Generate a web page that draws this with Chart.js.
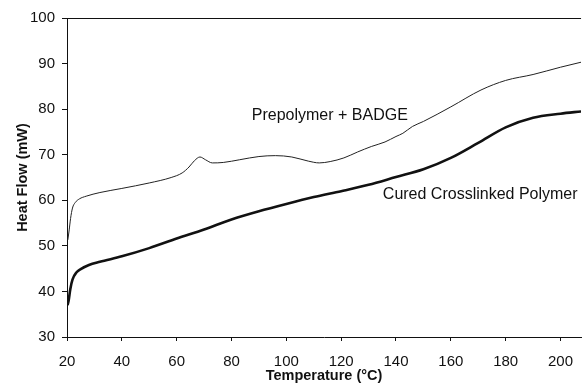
<!DOCTYPE html>
<html>
<head>
<meta charset="utf-8">
<script src="https://cdn.jsdelivr.net/npm/chart.js@4"></script>
<style>
  body { margin: 0; background: #fff; }
  #wrap { width: 585px; height: 387px; }
</style>
</head>
<body>
<div id="wrap"><canvas id="myChart" width="585" height="387"></canvas></div>
<script>
// DSC traces
const prepolymerTemps = [20.3, 20.8, 21.3, 22, 23, 24.5, 27, 32, 40, 50, 58, 62, 64.5, 66.5, 68.5, 70.5, 73, 77, 83, 90, 96, 102, 108, 112, 116, 121, 126, 131, 136, 140, 142.5, 146, 150, 160, 171, 180, 190, 200, 207.5];
const prepolymerFlow  = [51.3, 53.5, 56, 58.3, 59.5, 60.3, 60.9, 61.7, 62.6, 63.8, 65.0, 66.0, 67.3, 68.7, 69.5, 68.9, 68.2, 68.3, 68.9, 69.6, 69.8, 69.5, 68.6, 68.2, 68.5, 69.3, 70.6, 71.8, 72.8, 74.0, 74.7, 76.2, 77.3, 80.5, 84.2, 86.3, 87.6, 89.2, 90.3];

const curedTemps = [20.2, 20.6, 21.2, 22, 23.5, 25, 28, 32, 40, 50, 60, 70, 80, 90, 100, 110, 120, 130, 140, 150, 160, 170, 180, 190, 200, 207.5];
const curedFlow  = [37.0, 38.0, 40.5, 42.6, 44.2, 44.9, 45.8, 46.5, 47.7, 49.5, 51.6, 53.6, 55.8, 57.6, 59.2, 60.7, 62.0, 63.4, 65.1, 66.8, 69.3, 72.6, 76.0, 78.1, 79.0, 79.5];

const xTicks = [20, 40, 60, 80, 100, 120, 140, 160, 180, 200];
const yTicks = [30, 40, 50, 60, 70, 80, 90, 100];

const curveLabels = [
  { text: 'Prepolymer + BADGE', x: 87.4, y: 78.5 },
  { text: 'Cured Crosslinked Polymer', x: 135.2, y: 61.2 }
];

function toPoints(xs, ys) {
  return xs.map((x, i) => ({ x: x, y: ys[i] }));
}

const FONT = "'Liberation Sans', Arial, sans-serif";
Chart.defaults.font.family = FONT;
Chart.defaults.color = '#111';

// top frame line + the two curve labels
const extras = {
  id: 'extras',
  afterDraw(chart) {
    const ctx = chart.ctx;
    const area = chart.chartArea;
    const xs = chart.scales.x, ys = chart.scales.y;
    ctx.save();
    ctx.strokeStyle = '#111';
    ctx.lineWidth = 1;
    ctx.beginPath();
    ctx.moveTo(area.left, area.top + 0.5);
    ctx.lineTo(area.right, area.top + 0.5);
    ctx.stroke();
    ctx.fillStyle = '#111';
    ctx.font = '16px ' + FONT;
    ctx.textBaseline = 'middle';
    ctx.textAlign = 'left';
    curveLabels.forEach(l => {
      ctx.fillText(l.text, xs.getPixelForValue(l.x), ys.getPixelForValue(l.y));
    });
    ctx.restore();
  }
};

const config = {
  type: 'scatter',
  data: {
    datasets: [{
      label: 'Prepolymer + BADGE',
      data: toPoints(prepolymerTemps, prepolymerFlow),
      showLine: true,
      borderColor: '#222',
      borderWidth: 1,
      pointRadius: 0,
      cubicInterpolationMode: 'monotone'
    }, {
      label: 'Cured Crosslinked Polymer',
      data: toPoints(curedTemps, curedFlow),
      showLine: true,
      borderColor: '#111',
      borderWidth: 2.6,
      pointRadius: 0,
      cubicInterpolationMode: 'monotone'
    }]
  },
  options: {
    responsive: false,
    animation: false,
    layout: { padding: { top: 18, right: 0, left: 0, bottom: 0 } },
    plugins: {
      legend: { display: false },
      tooltip: { enabled: false }
    },
    scales: {
      x: {
        type: 'linear',
        min: 20,
        max: 207.5,
        afterFit(scale) { scale.height = 50; },
        afterBuildTicks(scale) { scale.ticks = xTicks.map(v => ({ value: v })); },
        grid: { display: true, drawOnChartArea: false, drawTicks: true, tickLength: 4, color: '#111' },
        border: { display: true, color: '#111', width: 1 },
        ticks: { padding: 12, font: { size: 15 }, color: '#111', maxRotation: 0 },
        title: {
          display: true,
          text: 'Temperature (°C)',
          font: { size: 14.5, weight: 'bold' },
          color: '#111',
          padding: { top: 0, bottom: 2 }
        }
      },
      y: {
        min: 30,
        max: 100,
        afterFit(scale) { scale.width = 67; },
        afterBuildTicks(scale) { scale.ticks = yTicks.map(v => ({ value: v })); },
        grid: { display: true, drawOnChartArea: false, drawTicks: true, tickLength: 5, color: '#111' },
        border: { display: true, color: '#111', width: 1 },
        ticks: { padding: 7, font: { size: 15 }, color: '#111' },
        title: {
          display: true,
          text: 'Heat Flow (mW)',
          font: { size: 14.5, weight: 'bold' },
          color: '#111',
          padding: { top: 14, bottom: 0 }
        }
      }
    }
  },
  plugins: [extras]
};

const myChart = new Chart(document.getElementById('myChart'), config);
</script>
</body>
</html>
